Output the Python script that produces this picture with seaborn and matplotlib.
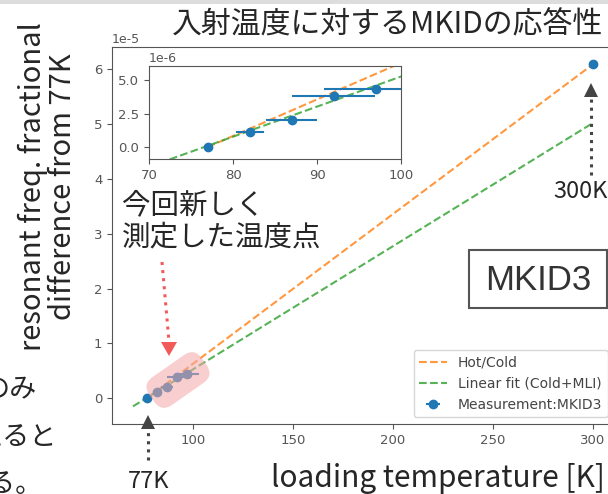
import matplotlib
matplotlib.use("Agg")
import matplotlib.pyplot as plt
import seaborn as sns
from matplotlib.patches import FancyBboxPatch, Polygon, Rectangle
from matplotlib.lines import Line2D
from matplotlib.transforms import Affine2D

# measured resonance shift vs loading temperature
temps = [77, 82, 87, 92, 97, 300]
shift = [0.0, 1.15e-6, 2.0e-6, 3.82e-6, 4.34e-6, 6.09e-5]
temp_err = [0.0, 1.7, 3.05, 4.95, 6.2, 0.0]

# Hot/Cold line and linear fit (Cold+MLI)
hot_cold_t = [77, 300]
hot_cold_y = [0.0, 6.09e-5]
fit_t = [70, 300]
fit_y = [-1.48e-6, 5.02e-5]

main_xticks = [100, 150, 200, 250, 300]
main_yticks = [0, 1e-5, 2e-5, 3e-5, 4e-5, 5e-5, 6e-5]
inset_xticks = [70, 80, 90, 100]
inset_yticks = [0, 2.5e-6, 5e-6]

W, H = 608, 494
JP = ["Noto Sans CJK JP", "DejaVu Sans"]
BLUE, ORANGE, GREEN = "#1f77b4", "#ff7f0e", "#2ca02c"
TXT = "#262626"

sns.set_style("ticks", {"axes.edgecolor": "#555555", "xtick.color": "#555555",
                        "ytick.color": "#555555", "text.color": "#444444"})
plt.rcParams["font.family"] = ["DejaVu Sans"]
plt.rcParams["axes.unicode_minus"] = False


def fx(x):
    return x / W


def fy(y):
    return 1 - y / H


def draw(ax, legend):
    sns.lineplot(x=hot_cold_t, y=hot_cold_y, ax=ax, color=ORANGE, linestyle="--",
                 lw=1.5, alpha=0.8, label="Hot/Cold", legend=legend)
    sns.lineplot(x=fit_t, y=fit_y, ax=ax, color=GREEN, linestyle="--",
                 lw=1.5, alpha=0.8, label="Linear fit (Cold+MLI)", legend=legend)
    ax.errorbar(temps, shift, xerr=temp_err, fmt="o", color=BLUE, ms=6,
                elinewidth=1.5, label="Measurement:MKID3")
    ax.tick_params(labelsize=9.5, labelcolor="#555555")
    ax.yaxis.get_offset_text().set_fontsize(9)


fig = plt.figure(figsize=(W / 100, H / 100), dpi=100)

# main axes (right part runs off the cropped slide)
ax = fig.add_axes([fx(112), 70 / H, 503 / W, 377.3 / H])
draw(ax, True)
ax.set_xlim(59.5, 311)
ax.set_ylim(-0.47e-5, 6.41e-5)
ax.set_xticks(main_xticks)
ax.set_yticks(main_yticks)
ax.legend(loc="lower right", fontsize=10)

# zoomed inset
axin = fig.add_axes([fx(149), (H - 159.3) / H, 252 / W, 93.6 / H])
draw(axin, False)
axin.set_xlim(70, 100)
axin.set_ylim(-0.92e-6, 6.07e-6)
axin.set_xticks(inset_xticks)
axin.set_yticks(inset_yticks)
if axin.get_legend():
    axin.get_legend().remove()

# slide decorations
to_fig = Affine2D().scale(1 / W, 1 / H) + fig.transFigure
fig.add_artist(Rectangle((0, H - 4), W, 4, fc="#dddddd", ec="none", transform=to_fig))

fig.text(fx(388), fy(25), "入射温度に対するMKIDの応答性", ha="center", va="center",
         fontsize=21.5, family=JP, color=TXT)
fig.text(fx(48), fy(187), "resonant freq. fractional\ndifference from 77K", rotation=90,
         ha="center", va="center", multialignment="center", fontsize=21,
         family=JP, color=TXT, linespacing=1.03)
fig.text(fx(605), fy(478), "loading temperature [K]", ha="right", va="center",
         fontsize=21.5, family=JP, color=TXT)
fig.text(fx(122), fy(221), "今回新しく\n測定した温度点", ha="left", va="center",
         fontsize=20.5, family=JP, color=TXT, linespacing=1.1)
fig.text(fx(553), fy(191), "300K", ha="left", va="center", fontsize=17, family=JP, color=TXT)
fig.text(fx(128), fy(481), "77K", ha="left", va="center", fontsize=17, family=JP, color=TXT)

# left-edge fragments of slide text (cut by the crop, as in the slide)
fig.text(fx(37), fy(390), "のみ", ha="right", va="center", fontsize=19.5, family=JP, color=TXT)
fig.text(fx(57), fy(437), "えると", ha="right", va="center", fontsize=19.5, family=JP, color=TXT)
fig.text(fx(-12), fy(484), "る。", ha="left", va="center", fontsize=19.5, family=JP, color=TXT)

# MKID3 box
fig.add_artist(Rectangle((469, H - 308), 138, 58, fc="white", ec="#555555", lw=1.5,
                         transform=to_fig))
fig.text(fx(538), fy(280), "MKID3", ha="center", va="center", fontsize=25,
         family=["Liberation Sans"], color="#333333")

# pink highlight around new points
cx, cy = 178, H - 380
fig.add_artist(FancyBboxPatch((cx - 32, cy - 17), 64, 34,
                              boxstyle="round,pad=0,rounding_size=13",
                              fc="#f4a6a6", ec="none", alpha=0.55,
                              transform=Affine2D().rotate_deg_around(cx, cy, 35) + to_fig))


def arrow(x0, y0, x1, y1, color, hw=7, hl=14):
    fig.add_artist(Line2D([x0, x1], [H - y0, H - y1], ls=":", lw=2.2, color=color,
                          transform=to_fig))
    d = 1 if y1 > y0 else -1
    fig.add_artist(Polygon([(x1 - hw, H - y1), (x1 + hw, H - y1), (x1, H - (y1 + d * hl))],
                           closed=True, fc=color, ec="none", transform=to_fig))


arrow(162, 262, 169, 342, "#f25a5a", hw=8)
arrow(148, 460, 148, 429, "#444444")
arrow(591, 175, 591, 97, "#444444")

fig.savefig("out.png", dpi=100)
